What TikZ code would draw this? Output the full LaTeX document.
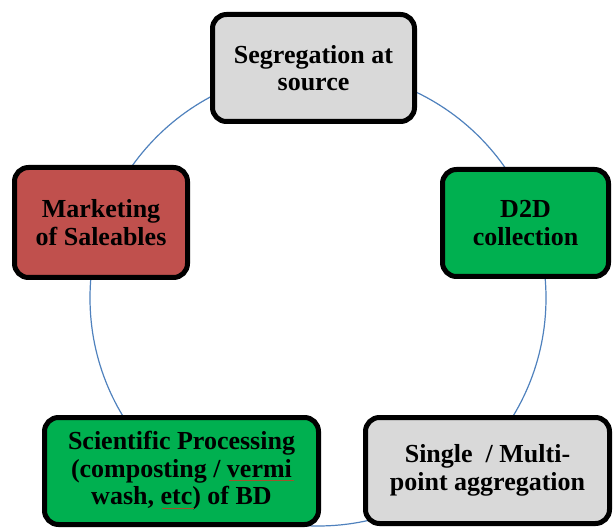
\documentclass[tikz,border=0pt]{standalone}
\usepackage{fontspec}
\setmainfont{Liberation Serif}
\definecolor{boxgray}{HTML}{D9D9D9}
\definecolor{boxgreen}{HTML}{00B050}
\definecolor{boxred}{HTML}{C0504D}
\definecolor{ringblue}{HTML}{4F81BD}
\definecolor{spellmark}{HTML}{A0522D}
\begin{document}
\begin{tikzpicture}[x=1pt,y=-1pt,
  card/.style={draw=black, line width=5pt, rounded corners=14pt, align=center,
    inner sep=0pt, font=\bfseries\fontsize{26}{27.5}\selectfont},
  ring/.style={draw=ringblue, line width=1.2pt},
  spell/.style={draw=spellmark, line width=0.9pt}]
\useasboundingbox (0,0) rectangle (613,529);
% the cycle ring behind the stages
\coordinate (ctr) at (318,298);
\draw[ring] (ctr) circle[radius=228pt];
% stages
\node[card, fill=boxgray, minimum width=202pt, minimum height=107pt] (seg) at (313.5,68) {Segregation at\\source};
\node[card, fill=boxgreen, minimum width=166pt, minimum height=107pt] (d2d) at (525.5,223) {D2D\\collection};
\node[card, fill=boxgray, minimum width=244pt, minimum height=106pt] (agg) at (487.5,470.5) {Single~ / Multi-\\point aggregation};
\node[card, fill=boxgreen, minimum width=274pt, minimum height=107pt] (sci) at (181.5,471) {Scientific Processing\\(composting / vermi\\wash, etc) of BD};
\node[card, fill=boxred, minimum width=173pt, minimum height=110pt] (mkt) at (101,222.5) {Marketing\\of Saleables};
% thin marks under "vermi" and "etc"
\draw[spell] ([shift={(47,9.5)}]sci.center) -- ([shift={(112,9.5)}]sci.center);
\draw[spell] ([shift={(-20,37)}]sci.center) -- ([shift={(12,37)}]sci.center);
\end{tikzpicture}
\end{document}
